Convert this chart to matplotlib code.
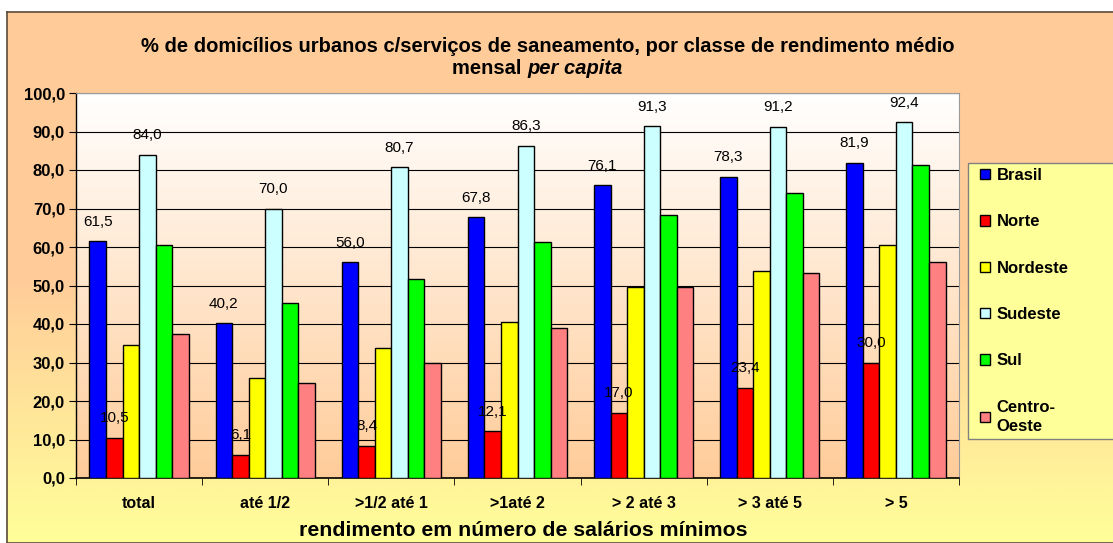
import numpy as np
import matplotlib.pyplot as plt
from matplotlib.colors import LinearSegmentedColormap
from matplotlib.patches import Rectangle, Patch

plt.rcParams['font.family'] = ['Liberation Sans', 'DejaVu Sans']

# Dados
categorias = ["total", "até 1/2", ">1/2 até 1", ">1até 2", "> 2 até 3", "> 3 até 5", "> 5"]
regioes = ["Brasil", "Norte", "Nordeste", "Sudeste", "Sul", "Centro-\nOeste"]
brasil = [61.5, 40.2, 56.0, 67.8, 76.1, 78.3, 81.9]
norte = [10.5, 6.1, 8.4, 12.1, 17.0, 23.4, 30.0]
nordeste = [34.5, 26.0, 33.8, 40.6, 49.6, 53.7, 60.5]
sudeste = [84.0, 70.0, 80.7, 86.3, 91.3, 91.2, 92.4]
sul = [60.5, 45.5, 51.6, 61.3, 68.2, 73.9, 81.2]
centro_oeste = [37.5, 24.8, 30.0, 39.0, 49.6, 53.3, 56.0]
series = [brasil, norte, nordeste, sudeste, sul, centro_oeste]
cores = ["#0000FF", "#FF0000", "#FFFF00", "#CCFFFF", "#00FF00", "#FF8080"]
com_rotulo = [True, True, False, True, False, False]

W, H = 1113, 543
fig = plt.figure(figsize=(W/100, H/100), dpi=100)

# fundo da figura (gradiente laranja -> amarelo)
bg = fig.add_axes([7/W, 0, 1, 1 - 12/H], zorder=-10)
grad = np.linspace(0, 1, 256).reshape(-1, 1)
cmap_bg = LinearSegmentedColormap.from_list("bg", ["#FFCC99", "#FFCC99", "#FFFF99"])
bg.imshow(grad, aspect="auto", cmap=cmap_bg, extent=[0, 1, 0, 1], origin="upper")
bg.set_xlim(0, 1)
bg.set_ylim(0, 1)
for s in bg.spines.values():
    s.set_color("#5a4a3a")
    s.set_linewidth(1.2)
bg.set_xticks([])
bg.set_yticks([])

# área do gráfico
left, right, top, bottom = 76, 959, 93, 478
ax = fig.add_axes([left/W, 1 - bottom/H, (right-left)/W, (bottom-top)/H])
ax.set_facecolor("none")
cmap_pa = LinearSegmentedColormap.from_list("pa", ["#FFFFFF", "#FFCC99"])
ax.imshow(grad, aspect="auto", cmap=cmap_pa, extent=[-0.5, len(categorias) - 0.5, 0, 100],
          origin="upper", zorder=0)

x = np.arange(len(categorias))
w = 0.131
for i, (vals, cor) in enumerate(zip(series, cores)):
    pos = x + (i - 2.5) * w
    ax.bar(pos, vals, width=w, color=cor, edgecolor="black", linewidth=1, zorder=3)
    if com_rotulo[i]:
        for px, v in zip(pos, vals):
            ax.annotate(f"{v:.1f}".replace(".", ","), (px, v), xytext=(0, 14),
                        textcoords="offset points", ha="center", va="center",
                        fontsize=11, zorder=4)

ax.set_xlim(-0.5, len(categorias) - 0.5)
ax.set_ylim(0, 100)
yt = np.arange(0, 101, 10)
ax.set_yticks(yt)
ax.set_yticklabels([f"{v:.1f}".replace(".", ",") for v in yt], fontsize=12, fontweight="bold")
ax.yaxis.grid(True, color="black", linewidth=0.8, zorder=1)
ax.set_axisbelow(True)
ax.set_xticks(x)
ax.set_xticklabels(categorias, fontsize=11.5, fontweight="bold")
ax.set_xticks(np.arange(-0.5, len(categorias)), minor=True)
ax.tick_params(axis="x", which="major", length=0, pad=13)
ax.tick_params(axis="x", which="minor", length=5, color="black")
ax.tick_params(axis="y", length=5, color="black", pad=3)
ax.spines["left"].set_color("black")
ax.spines["bottom"].set_color("black")
ax.spines["left"].set_linewidth(1)
ax.spines["bottom"].set_linewidth(1.2)
ax.spines["top"].set_color("#999999")
ax.spines["right"].set_color("#999999")
fig.text(523/W, 1 - 531/H, "rendimento em número de salários mínimos", ha="center", va="center",
         fontsize=15.3, fontweight="bold")

# título
fig.text(548/W, 1 - 47/H, "% de domicílios urbanos c/serviços de saneamento, por classe de rendimento médio",
         ha="center", va="center", fontsize=14.5, fontweight="bold")
t1 = fig.text(452/W, 1 - 68/H, "mensal ", ha="left", va="center", fontsize=14.5, fontweight="bold")
ax.annotate("per capita", xy=(1, 0), xycoords=t1, va="bottom", ha="left",
            fontsize=14.5, fontweight="bold", style="italic", annotation_clip=False)

# legenda
fig.patches.append(Rectangle((968/W, 1 - 439/H), 0.2, (439 - 163)/H, transform=fig.transFigure,
                             facecolor="#FFFF99", edgecolor="#808080", linewidth=1, zorder=-5))
handles = [Patch(facecolor=c, edgecolor="black", label=r) for c, r in zip(cores, regioes)]
leg = fig.legend(handles=handles, loc="upper left", bbox_to_anchor=(980/W, 1 - 168/H),
                 frameon=False, labelspacing=1.88, handlelength=0.6, handleheight=0.6,
                 handletextpad=0.4, borderpad=0, borderaxespad=0,
                 prop={"weight": "bold", "size": 12})
leg.get_texts()[-1].set_linespacing(1.4)

fig.savefig("out.png", dpi=100)
